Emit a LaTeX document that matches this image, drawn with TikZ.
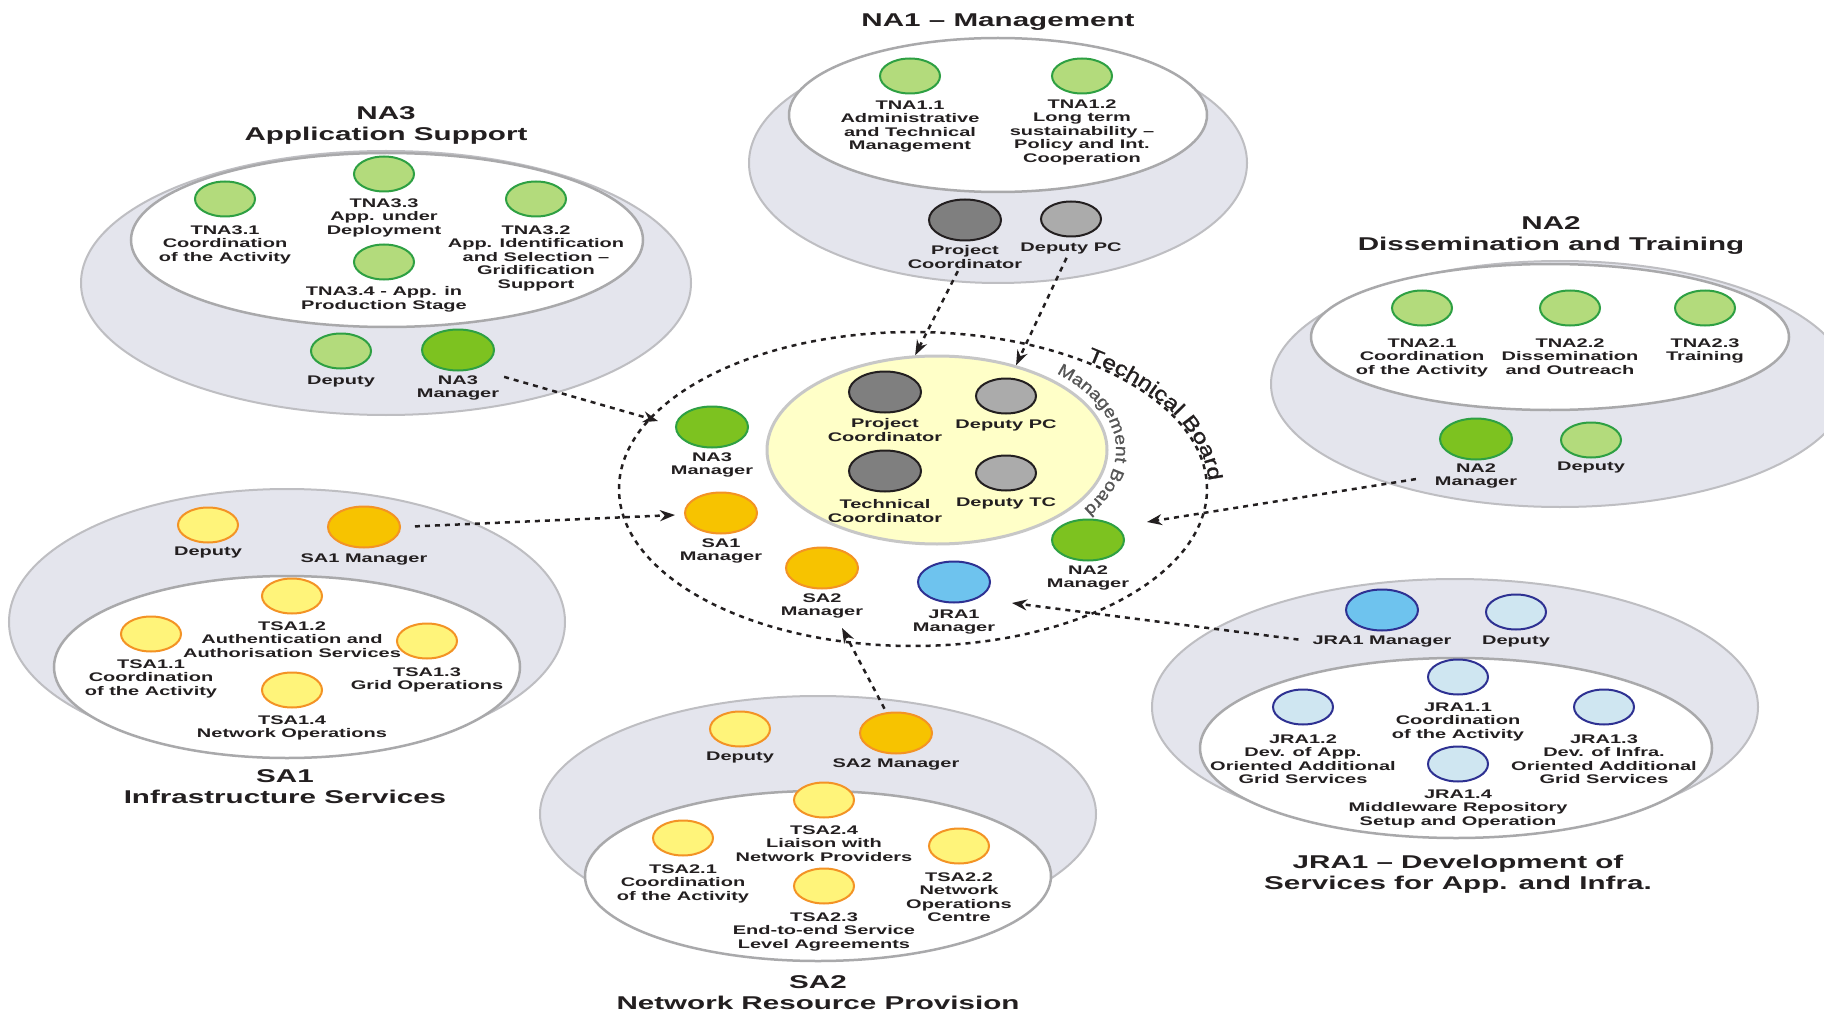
\documentclass[tikz,border=0pt]{standalone}
\usepackage{fontspec}
\usepackage{xcolor}
\usetikzlibrary{shapes.geometric}
\usetikzlibrary{positioning}
\usetikzlibrary{arrows.meta,calc}
\usetikzlibrary{decorations.text}

\newfontfamily\lbl{Liberation Sans}[FakeStretch=1.6]
\newfontfamily\arcfont{Liberation Sans}[FakeStretch=1.25, FakeBold=1.2]
\newfontfamily\mbfont{Liberation Sans}[FakeStretch=1.15, FakeBold=1]

\definecolor{lavande}{HTML}{E4E5ED}
\definecolor{bordext}{HTML}{BEBEC2}
\definecolor{bordint}{HTML}{A9A9AB}
\definecolor{vertclair}{HTML}{B3DB7C}
\definecolor{vertbord}{HTML}{2EA043}
\definecolor{vertfonce}{HTML}{7DC220}
\definecolor{jauneclair}{HTML}{FFF47A}
\definecolor{orangebord}{HTML}{F39325}
\definecolor{jaunefonce}{HTML}{F7C300}
\definecolor{bleuclair}{HTML}{CFE6F1}
\definecolor{bleubord}{HTML}{2E3192}
\definecolor{bleumoyen}{HTML}{6EC3EE}
\definecolor{grisfonce}{HTML}{7F7F7F}
\definecolor{grisclair}{HTML}{ABABAB}
\definecolor{encre}{HTML}{231F20}
\definecolor{jaunepale}{HTML}{FFFFC8}
\definecolor{bordmb}{HTML}{C7C7C7}
\definecolor{textemb}{HTML}{555555}

\begin{document}
\begin{tikzpicture} [
  x = 1pt, y = -1pt,
  fond/.style = {draw=bordext, line width=2pt, fill=lavande},
  creux/.style = {draw=bordint, line width=2.5pt, fill=white},
  pion/.style = {ellipse, inner sep=0pt, minimum width=60pt, minimum height=35pt, line width=2pt},
  gros/.style = {minimum width=72pt, minimum height=41pt},
  vert/.style = {pion, draw=vertbord, fill=vertclair},
  vertf/.style = {pion, gros, draw=vertbord, fill=vertfonce},
  jaune/.style = {pion, draw=orangebord, fill=jauneclair},
  jaunef/.style = {pion, gros, draw=orangebord, fill=jaunefonce},
  bleu/.style = {pion, draw=bleubord, fill=bleuclair},
  bleuf/.style = {pion, gros, draw=bleubord, fill=bleumoyen},
  gris/.style = {pion, draw=encre, fill=grisclair},
  grisf/.style = {pion, gros, draw=encre, fill=grisfonce},
  etiq/.style = {align=center, inner sep=0pt, text=encre, font=\lbl\bfseries\fontsize{12.5}{13.4}\selectfont},
  titre/.style = {align=center, inner sep=0pt, anchor=north, text=encre, font=\lbl\bfseries\fontsize{18.5}{21}\selectfont},
  lien/.style = {draw=encre, line width=2.5pt, dash pattern=on 5pt off 5pt, -{Stealth[length=15pt,width=11pt]}},
]

\path[use as bounding box, fill=white] (0,0) rectangle (1824,1011);
\clip (0,0) rectangle (1824,1011);

% NA1
\draw[fond] (998,163) ellipse [x radius=249, y radius=120];
\draw[creux] (998,115) ellipse [x radius=209, y radius=77];
\node[titre] (na1) at (998,14) {NA1 – Management};
\node[vert] (t11) at (910,76) {};
\node[vert] (t12) at (1082,76) {};
\node[grisf] (pc1) at (965,220) {};
\node[gris] (dpc1) at (1071,219) {};
\node[etiq, below=6pt of t11] (lt11) {TNA1.1\\Administrative\\and Technical\\Management};
\node[etiq, below=5pt of t12] (lt12) {TNA1.2\\Long term\\sustainability –\\Policy and Int.\\Cooperation};
\node[etiq, below=4pt of pc1] (lpc1) {Project\\Coordinator};
\node[etiq, below=5pt of dpc1] (ldpc1) {Deputy PC};

% NA3
\draw[fond] (386,283) ellipse [x radius=305, y radius=132];
\draw[creux] (387,240) ellipse [x radius=256, y radius=87];
\node[titre] (na3) at (386,106) {NA3\\Application Support};
\node[vert] (t31) at (225,199) {};
\node[vert] (t33) at (384,174) {};
\node[vert] (t32) at (536,199) {};
\node[vert] (t34) at (384,262) {};
\node[vert] (dep3) at (341,351) {};
\node[vertf] (man3) at (458,350) {};
\node[etiq, below=8pt of t31] (lt31) {TNA3.1\\Coordination\\of the Activity};
\node[etiq, below=6pt of t33] (lt33) {TNA3.3\\App. under\\Deployment};
\node[etiq, below=8pt of t32] (lt32) {TNA3.2\\App. Identification\\and Selection –\\Gridification\\Support};
\node[etiq, below=6pt of t34] (lt34) {TNA3.4 - App. in\\Production Stage};
\node[etiq, below=6pt of dep3] (ldep3) {Deputy};
\node[etiq, below=4pt of man3] (lman3) {NA3\\Manager};

% NA2
\draw[fond] (1560,384) ellipse [x radius=289, y radius=123];
\draw[creux] (1550,337) ellipse [x radius=239, y radius=73];
\node[titre] (na2) at (1551,216) {NA2\\Dissemination and Training};
\node[vert] (t21) at (1422,308) {};
\node[vert] (t22) at (1570,308) {};
\node[vert] (t23) at (1705,308) {};
\node[vertf] (man2) at (1476,439) {};
\node[vert] (dep2) at (1591,440) {};
\node[etiq, below=12pt of t21] (lt21) {TNA2.1\\Coordination\\of the Activity};
\node[etiq, below=12pt of t22] (lt22) {TNA2.2\\Dissemination\\and Outreach};
\node[etiq, below=12pt of t23] (lt23) {TNA2.3\\Training};
\node[etiq, below=3pt of man2] (lman2) {NA2\\Manager};
\node[etiq, below=3pt of dep2] (ldep2) {Deputy};

% SA1
\draw[fond] (287,622) ellipse [x radius=278, y radius=133];
\draw[creux] (287,667) ellipse [x radius=233, y radius=91];
\node[titre] (sa1) at (285,769) {SA1\\Infrastructure Services};
\node[jaune] (deps1) at (208,525) {};
\node[jaunef] (mans1) at (364,527) {};
\node[jaune] (s12) at (292,596) {};
\node[jaune] (s11) at (151,634) {};
\node[jaune] (s13) at (427,641) {};
\node[jaune] (s14) at (292,690) {};
\node[etiq, below=3pt of deps1] (ldeps1) {Deputy};
\node[etiq, below=5pt of mans1] (lmans1) {SA1 Manager};
\node[etiq, below=7pt of s12] (ls12) {TSA1.2\\Authentication and\\Authorisation Services};
\node[etiq, below=7pt of s11] (ls11) {TSA1.1\\Coordination\\of the Activity};
\node[etiq, below=8pt of s13] (ls13) {TSA1.3\\Grid Operations};
\node[etiq, below=7pt of s14] (ls14) {TSA1.4\\Network Operations};

% SA2
\draw[fond] (818,814) ellipse [x radius=278, y radius=118];
\draw[creux] (818,876) ellipse [x radius=233, y radius=85];
\node[titre] (sa2) at (818,975) {SA2\\Network Resource Provision};
\node[jaune] (deps2) at (740,729) {};
\node[jaunef] (mans2) at (896,733) {};
\node[jaune] (s24) at (824,800) {};
\node[jaune] (s21) at (683,838) {};
\node[jaune] (s22) at (959,846) {};
\node[jaune] (s23) at (824,886) {};
\node[etiq, below=4pt of deps2] (ldeps2) {Deputy};
\node[etiq, below=4pt of mans2] (lmans2) {SA2 Manager};
\node[etiq, below=7pt of s24] (ls24) {TSA2.4\\Liaison with\\Network Providers};
\node[etiq, below=8pt of s21] (ls21) {TSA2.1\\Coordination\\of the Activity};
\node[etiq, below=8pt of s22] (ls22) {TSA2.2\\Network\\Operations\\Centre};
\node[etiq, below=8pt of s23] (ls23) {TSA2.3\\End-to-end Service\\Level Agreements};

% JRA1
\draw[fond] (1455,707) ellipse [x radius=303, y radius=128];
\draw[creux] (1456,748) ellipse [x radius=256, y radius=90];
\node[titre] (jra1) at (1458,855) {JRA1 – Development of\\Services for App. and Infra.};
\node[bleuf] (manj) at (1382,610) {};
\node[bleu] (depj) at (1516,612) {};
\node[bleu] (j11) at (1458,677) {};
\node[bleu] (j12) at (1303,707) {};
\node[bleu] (j13) at (1604,707) {};
\node[bleu] (j14) at (1458,764) {};
\node[etiq, below=4pt of manj] (lmanj) {JRA1 Manager};
\node[etiq, below=5pt of depj] (ldepj) {Deputy};
\node[etiq, below=7pt of j11] (lj11) {JRA1.1\\Coordination\\of the Activity};
\node[etiq, below=9pt of j12] (lj12) {JRA1.2\\Dev. of App.\\Oriented Additional\\Grid Services};
\node[etiq, below=9pt of j13] (lj13) {JRA1.3\\Dev. of Infra.\\Oriented Additional\\Grid Services};
\node[etiq, below=7pt of j14] (lj14) {JRA1.4\\Middleware Repository\\Setup and Operation};

% boards
\node[ellipse, draw=encre, line width=2.5pt, dash pattern=on 5pt off 5pt, minimum width=588pt, minimum height=314pt] (tb) at (913,489) {};
\node[ellipse, draw=bordmb, line width=3pt, fill=jaunepale, minimum width=340pt, minimum height=188pt] (mb) at (937,450) {};
\path[decorate, decoration={text along path, text align=center, text color=encre,
  text={|\arcfont\fontsize{20}{20}\selectfont|Technical Board}}]
  (913,489) ++(-65:296 and 159) arc [start angle=-65, end angle=15, x radius=296, y radius=159];
\path[decorate, decoration={text along path, text align=center, text color=textemb,
  text={|\mbfont\fontsize{17}{17}\selectfont|Management Board}}]
  (937,450) ++(-58:179 and 103) arc [start angle=-58, end angle=46, x radius=179, y radius=103];

\node[grisf] (pc) at (885,392) {};
\node[gris] (dpc) at (1006,396) {};
\node[grisf] (tc) at (885,471) {};
\node[gris] (dtc) at (1006,473) {};
\node[etiq, below=5pt of pc] (lpc) {Project\\Coordinator};
\node[etiq, below=5pt of dpc] (ldpc) {Deputy PC};
\node[etiq, below=7pt of tc] (ltc) {Technical\\Coordinator};
\node[etiq, below=6pt of dtc] (ldtc) {Deputy TC};

\node[vertf] (cna3) at (712,427) {};
\node[jaunef] (csa1) at (721,513) {};
\node[jaunef] (csa2) at (822,568) {};
\node[bleuf] (cjra1) at (954,582) {};
\node[vertf] (cna2) at (1088,540) {};
\node[etiq, below=4pt of cna3] (lcna3) {NA3\\Manager};
\node[etiq, below=4pt of csa1] (lcsa1) {SA1\\Manager};
\node[etiq, below=4pt of csa2] (lcsa2) {SA2\\Manager};
\node[etiq, below=6pt of cjra1] (lcjra1) {JRA1\\Manager};
\node[etiq, below=4pt of cna2] (lcna2) {NA2\\Manager};

\coordinate (fna3) at (658,421);
\coordinate (fsa1) at (675,515);
\coordinate (fna2) at (1147,522);
\coordinate (fjra1) at (1012,603);
\coordinate (fsa2) at (842,628);

\begin{scope}[every path/.style=lien]
\path[shorten <=3pt] (lpc1) -- (mb.103);
\path[shorten <=4pt] (ldpc1) -- (mb.47);
\path[shorten <=5pt] (lman3.north east) -- (fna3);
\path[shorten <=14pt] (mans1.east) -- (fsa1);
\path[shorten <=19pt] (lman2.west) -- (fna2);
\path[shorten <=14pt] (lmanj.west) -- (fjra1);
\path[shorten <=4pt] (mans2.115) -- (fsa2);
\end{scope}

\end{tikzpicture}
\end{document}
